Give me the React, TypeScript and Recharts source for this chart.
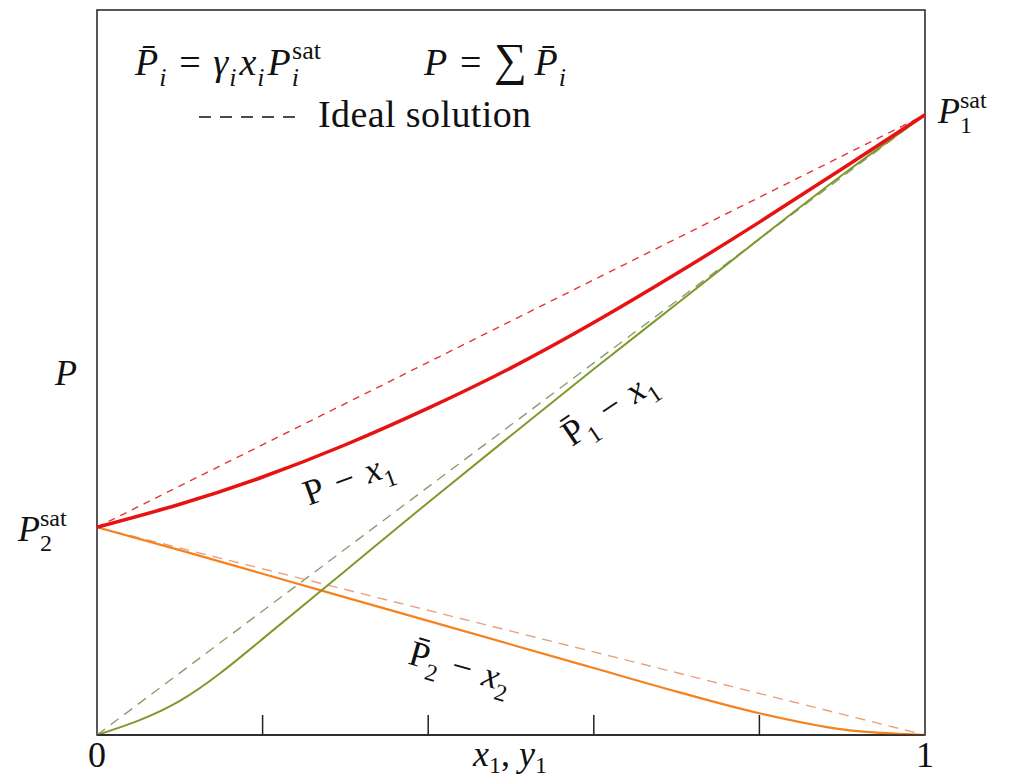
import React from 'react';
import { LineChart, Line, XAxis, YAxis, ReferenceArea } from 'recharts';

// mole fraction grid
const xGrid = [0, 0.1, 0.2, 0.3, 0.4, 0.5, 0.6, 0.7, 0.8, 0.9, 1];
// total pressure P (red), partial pressures P1bar (olive) and P2bar (orange), P1sat = 1
const totalP = [0.335, 0.372, 0.416, 0.468, 0.527, 0.592, 0.665, 0.744, 0.827, 0.913, 1];
const partialP1 = [0, 0.055, 0.155, 0.265, 0.375, 0.483, 0.59, 0.695, 0.8, 0.903, 1];
const partialP2 = [0.335, 0.298, 0.26, 0.222, 0.184, 0.146, 0.108, 0.07, 0.035, 0.009, 0];

// ideal solution (Raoult) straight lines, by end points
const idealTotal = [{ x: 0, v: 0.335 }, { x: 1, v: 1 }];
const idealP1 = [{ x: 0, v: 0 }, { x: 1, v: 1 }];
const idealP2 = [{ x: 0, v: 0.335 }, { x: 1, v: 0 }];

const xTicks = [0, 0.2, 0.4, 0.6, 0.8, 1];
const yMax = 1.169;

const curveRows = xGrid.map((x, i) => ({ x, P: totalP[i], P1: partialP1[i], P2: partialP2[i] }));

const FONT = '"Liberation Serif", "DejaVu Serif", serif';

type Part = { t: string; it?: boolean; pos?: 'sub' | 'sup'; dx?: number; size?: number };

function MathText({ x, y, size, parts, anchor = 'start', rotate = 0, subShift = 0.28 }: {
  x: number; y: number; size: number; parts: Part[]; anchor?: string; rotate?: number; subShift?: number;
}) {
  let shift = 0;
  const small = Math.round(size * 0.68);
  const spans = parts.map((p, i) => {
    const target = p.pos === 'sub' ? size * subShift : p.pos === 'sup' ? -size * 0.42 : 0;
    const dy = target - shift;
    shift = target;
    return (
      <tspan
        key={i}
        dy={dy}
        dx={p.dx ?? 0}
        fontSize={p.size ?? (p.pos ? small : size)}
        fontStyle={p.it ? 'italic' : 'normal'}
      >
        {p.t}
      </tspan>
    );
  });
  return (
    <text
      x={x}
      y={y}
      fontFamily={FONT}
      fontSize={size}
      fill="#111"
      textAnchor={anchor as any}
      transform={rotate ? `rotate(${rotate}, ${x}, ${y})` : undefined}
    >
      {spans}
    </text>
  );
}

function XTick(props: any) {
  const { x, y, payload } = props;
  const v = payload.value;
  if (v === 0 || v === 1) {
    return (
      <text x={x} y={y + 32} textAnchor="middle" fontFamily={FONT} fontSize={36} fill="#111">
        {v}
      </text>
    );
  }
  return <line x1={x} x2={x} y1={y} y2={y - 20} stroke="#222" strokeWidth={1.5} />;
}

const SP = '\u2004';

export default function App() {
  return (
    <div style={{ position: 'absolute', left: 0, top: 0, width: 1017, height: 783, background: '#fff' }}>
      <LineChart width={1017} height={783} margin={{ top: 10, right: 92, bottom: 0, left: 97 }}>
        <XAxis
          dataKey="x"
          type="number"
          domain={[0, 1]}
          ticks={xTicks}
          interval={0}
          tick={<XTick />}
          tickLine={false}
          tickSize={0}
          tickMargin={0}
          height={48}
          axisLine={{ stroke: '#222', strokeWidth: 1.5 }}
        />
        <YAxis type="number" domain={[0, yMax]} hide />
        <ReferenceArea
          x1={0}
          x2={1}
          y1={0}
          y2={yMax}
          fill="none"
          stroke="#222"
          strokeWidth={1.5}
          ifOverflow="visible"
        />
        <Line data={idealTotal} dataKey="v" type="linear" stroke="#e6343c" strokeWidth={1.4}
          strokeDasharray="7 6" dot={false} isAnimationActive={false} />
        <Line data={idealP1} dataKey="v" type="linear" stroke="#8c9c70" strokeWidth={1.4}
          strokeDasharray="10 7" dot={false} isAnimationActive={false} />
        <Line data={idealP2} dataKey="v" type="linear" stroke="#e9a07c" strokeWidth={1.4}
          strokeDasharray="10 7" dot={false} isAnimationActive={false} />
        <Line data={curveRows} dataKey="P2" type="monotone" stroke="#f5821f" strokeWidth={2.2}
          dot={false} isAnimationActive={false} />
        <Line data={curveRows} dataKey="P1" type="natural" stroke="#7f9a2c" strokeWidth={2}
          dot={false} isAnimationActive={false} />
        <Line data={curveRows} dataKey="P" type="natural" stroke="#e81212" strokeWidth={3.5}
          dot={false} isAnimationActive={false} />
      </LineChart>
      <svg
        width={1017}
        height={783}
        style={{ position: 'absolute', left: 0, top: 0, pointerEvents: 'none' }}
      >
        <MathText x={135} y={75} size={38} parts={[
          { t: 'P\u0304', it: true }, { t: 'i', it: true, pos: 'sub', dx: 1 },
          { t: `${SP}=${SP}` }, { t: 'γ', it: true }, { t: 'i', it: true, pos: 'sub', dx: 1 },
          { t: 'x', it: true, dx: 3 }, { t: 'i', it: true, pos: 'sub', dx: 1 },
          { t: 'P', it: true, dx: 3 }, { t: 'i', it: true, pos: 'sub', dx: 1 },
          { t: 'sat', pos: 'sup', dx: -7 },
        ]} />
        <MathText x={424} y={75} size={38} parts={[
          { t: 'P', it: true }, { t: `${SP}=${SP}` }, { t: '∑', size: 46 }, { t: '\u2009' },
          { t: 'P\u0304', it: true }, { t: 'i', it: true, pos: 'sub', dx: 1 },
        ]} />
        <line x1={199} x2={297} y1={117} y2={117} stroke="#111" strokeWidth={1.5} strokeDasharray="12 9" />
        <text x={318} y={127} fontFamily={FONT} fontSize={38} letterSpacing={0.4} fill="#111">Ideal solution</text>

        <MathText x={55} y={385} size={36} parts={[{ t: 'P', it: true }]} />
        <MathText x={18} y={541} size={36} parts={[
          { t: 'P', it: true }, { t: '2', pos: 'sub' }, { t: 'sat', pos: 'sup', dx: -12 },
        ]} />
        <MathText x={938} y={123} size={36} parts={[
          { t: 'P', it: true }, { t: '1', pos: 'sub' }, { t: 'sat', pos: 'sup', dx: -12 },
        ]} />

        <MathText x={352} y={490} size={36} anchor="middle" rotate={-20} parts={[
          { t: `P${SP}−${SP}` }, { t: 'x', it: true }, { t: '1', pos: 'sub' },
        ]} />
        <MathText x={615} y={418} size={36} anchor="middle" rotate={-34} parts={[
          { t: 'P\u0304' }, { t: '1', pos: 'sub' }, { t: `${SP}−${SP}` }, { t: 'x', it: true }, { t: '1', pos: 'sub' },
        ]} />
        <MathText x={457} y={678} size={36} anchor="middle" rotate={16} parts={[
          { t: 'P\u0304' }, { t: '2', pos: 'sub' }, { t: `${SP}−${SP}` }, { t: 'x', it: true }, { t: '2', pos: 'sub' },
        ]} />

        <MathText x={510} y={766} size={36} anchor="middle" subShift={0.2} parts={[
          { t: 'x', it: true }, { t: '1', pos: 'sub' }, { t: ', ' }, { t: 'y', it: true }, { t: '1', pos: 'sub' },
        ]} />
      </svg>
    </div>
  );
}
